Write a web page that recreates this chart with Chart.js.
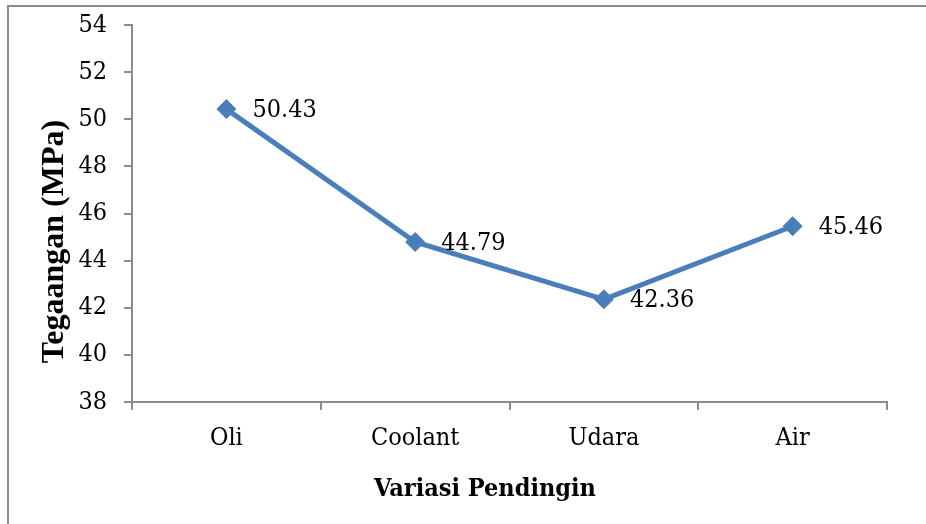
<!DOCTYPE html>
<html>
<head>
<meta charset="utf-8">
<script src="https://cdn.jsdelivr.net/npm/chart.js@4.4.1/dist/chart.umd.min.js"></script>
<style>
  html, body { margin: 0; padding: 0; background: #fff; overflow: hidden; }
  #wrap { position: relative; width: 926px; height: 524px; overflow: hidden; }
  #frame {
    position: absolute; left: 7px; top: 5px; width: 940px; height: 540px;
    border-top: 2px solid #8c8c8c; border-left: 2px solid #8c8c8c;
  }
  /* shifted up a little so the plot top lands where the original has it */
  canvas { position: absolute; left: 0; top: -7px; }
</style>
</head>
<body>
<div id="wrap">
  <div id="frame"></div>
  <canvas id="chart-tegangan" width="926" height="531"></canvas>
</div>
<script>
const categories = ['Oli', 'Coolant', 'Udara', 'Air'];
const tegangan = [50.43, 44.79, 42.36, 45.46];
const y_ticks = [38, 40, 42, 44, 46, 48, 50, 52, 54];

const y_title = 'Tegaangan (MPa)';
const x_title = 'Variasi Pendingin';

const serif_font = "'DejaVu Serif Condensed', 'DejaVu Serif', serif";
const axis_color = '#8c8c8c';
const line_color = '#4a7ebb';
const shift = 7; // canvas is moved up by this much

// value labels to the right of each point + the two axis titles
const labelsPlugin = {
  id: 'labelsPlugin',
  afterDatasetsDraw(chart) {
    const ctx = chart.ctx;
    const meta = chart.getDatasetMeta(0);
    ctx.save();
    ctx.fillStyle = '#000';
    ctx.font = '25px ' + serif_font;
    ctx.textAlign = 'left';
    ctx.textBaseline = 'middle';
    meta.data.forEach((pt, i) => {
      ctx.fillText(tegangan[i].toFixed(2), pt.x + 26, pt.y + 1);
    });

    // x axis title
    ctx.font = 'bold 25px ' + serif_font;
    ctx.textAlign = 'center';
    ctx.textBaseline = 'alphabetic';
    ctx.fillText(x_title, 485, 496 + shift);

    // y axis title
    ctx.translate(63, 241.5 + shift);
    ctx.rotate(-Math.PI / 2);
    ctx.font = "bold 32px 'Liberation Serif', 'Times New Roman', serif";
    ctx.fillText(y_title, 0, 0);
    ctx.restore();
  }
};

const ctx = document.getElementById('chart-tegangan');
new Chart(ctx, {
  type: 'line',
  plugins: [labelsPlugin],
  data: {
    labels: categories,
    datasets: [{
      label: 'Tegangan',
      data: tegangan,
      borderColor: line_color,
      backgroundColor: line_color,
      borderWidth: 5,
      pointStyle: 'rectRot',
      pointRadius: 9.5,
      pointBorderWidth: 1,
      pointBorderColor: line_color,
      pointBackgroundColor: line_color,
      tension: 0
    }]
  },
  options: {
    responsive: false,
    animation: false,
    layout: {
      padding: { left: 0, right: 39, top: 17, bottom: 0 }
    },
    plugins: {
      legend: { display: false },
      tooltip: { enabled: false }
    },
    scales: {
      x: {
        offset: true,
        grid: {
          offset: true,
          drawOnChartArea: false,
          drawTicks: true,
          tickLength: 8,
          color: axis_color,
          lineWidth: 2
        },
        border: { color: axis_color, width: 2 },
        ticks: {
          color: '#000',
          padding: 13,
          font: { family: serif_font, size: 25 }
        },
        afterFit: function (scale) {
          scale.height = 122;
        }
      },
      y: {
        min: 38,
        max: 54,
        afterBuildTicks: function (scale) {
          scale.ticks = y_ticks.map(v => ({ value: v }));
        },
        grid: {
          drawOnChartArea: false,
          drawTicks: true,
          tickLength: 8,
          color: axis_color,
          lineWidth: 2
        },
        border: { color: axis_color, width: 2 },
        ticks: {
          color: '#000',
          padding: 17,
          font: { family: serif_font, size: 25 }
        },
        afterFit: function (scale) {
          scale.width = 132;
        }
      }
    }
  }
});
</script>
</body>
</html>
